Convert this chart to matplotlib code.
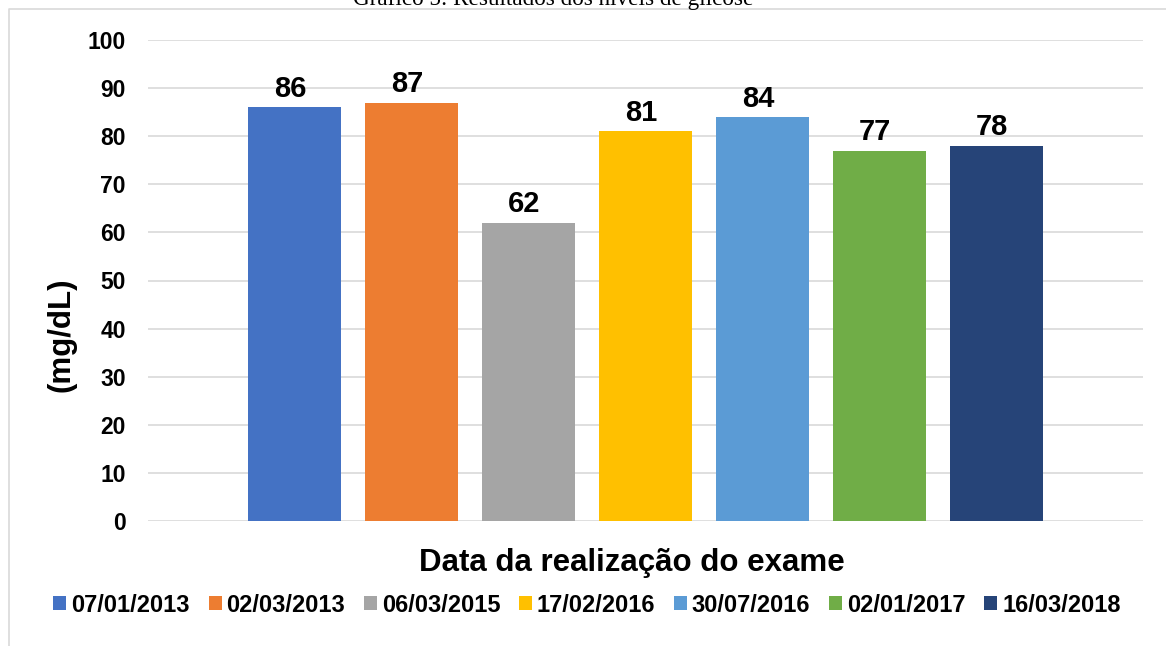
import matplotlib
matplotlib.use("Agg")
from matplotlib import pyplot as plt
from matplotlib.lines import Line2D
import numpy as np

# data
dates = ["07/01/2013", "02/03/2013", "06/03/2015", "17/02/2016",
         "30/07/2016", "02/01/2017", "16/03/2018"]
glucose = [86, 87, 62, 81, 84, 77, 78]
colors = ["#4472C4", "#ED7D31", "#A5A5A5", "#FFC000",
          "#5B9BD5", "#70AD47", "#264478"]
yticks = list(range(0, 101, 10))

W, H = 1166, 646
plt.rcParams['font.family'] = ['Liberation Sans', 'DejaVu Sans']

fig = plt.figure(figsize=(W/100, H/100), dpi=100)
ax = fig.add_axes([148/W, 1-521/H, (1143-148)/W, (521-40)/H])

x = np.arange(len(dates))
bars = ax.bar(x, glucose, width=0.795, color=colors, label=dates, zorder=3)

for xi, v in zip(x, glucose):
    ax.annotate(str(v), (xi, v), xytext=(-3, 7.5), textcoords="offset points",
                ha="center", va="baseline", fontsize=21, fontweight="bold",
                color="#000000")

ax.set_xlim(-1.252, len(dates) - 1 + 1.252)
ax.set_ylim(0, 100)
ax.set_yticks(yticks)
ax.set_yticklabels([str(t) for t in yticks], fontsize=16.5, fontweight="bold")
ax.tick_params(axis="y", length=0, pad=16)
ax.set_xticks([])
ax.grid(axis="y", color="#D9D9D9", linewidth=1.2, zorder=0)
for s in ax.spines.values():
    s.set_visible(False)

# axis titles
fig.text(632/W, 1-571/H, "Data da realização do exame", ha="center",
         va="baseline", fontsize=22.5, fontweight="bold")
fig.text(61/W, 1-335/H, "(mg/dL)", ha="center", va="center", rotation=90,
         fontsize=22.5, fontweight="bold")

# title, cut off at the top edge as in the source
fig.text(553/W, 1-5/H, "Gráfico 5: Resultados dos níveis de glicose",
         ha="center", va="baseline", fontsize=16.7,
         family=["Liberation Serif", "DejaVu Serif"])

# chart frame
fig.add_artist(Line2D([9/W, 9/W, 1], [0, 1-9/H, 1-9/H],
                      transform=fig.transFigure, color="#D9D9D9", linewidth=1.2))

leg = fig.legend(handles=bars.patches, labels=dates, loc="center",
                 bbox_to_anchor=(587/W, 1-605/H), ncol=7, frameon=False,
                 handlelength=0.55, handleheight=0.55, handletextpad=0.2,
                 columnspacing=0.8, borderaxespad=0,
                 prop={"size": 17, "weight": "bold"})

fig.savefig("out.png", dpi=100)
